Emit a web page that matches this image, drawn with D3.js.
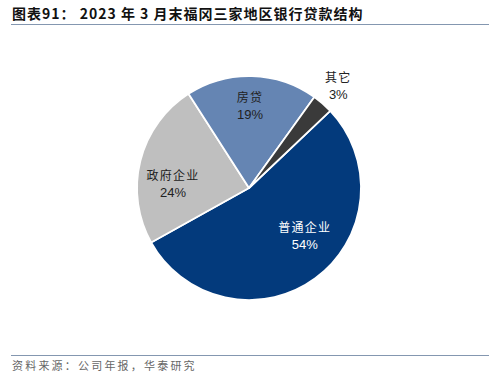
<!DOCTYPE html>
<html><head><meta charset="utf-8">
<script src="https://cdn.jsdelivr.net/npm/d3@7"></script>
<style>body{margin:0;background:#fff;} svg{display:block;}</style>
</head><body>
<svg id="c" width="500" height="382"></svg>
<script>
const categories = ["普通企业", "政府企业", "房贷", "其它"];
const values = [54, 24, 19, 3];
const labels = ["普通企业", "政府企业", "房贷", "其它"];
const colors = ["#033a7c", "#bfbfbf", "#6585b3", "#3a3a3a"];
const labelColors = ["#ffffff", "#222222", "#222222", "#222222"];
const title = "图表91：  2023 年 3 月末福冈三家地区银行贷款结构";
const source = "资料来源：公司年报，华泰研究";

const svg = d3.select("#c");
const cx = 249, cy = 188, r = 112;
const font = "'Noto Sans CJK SC', 'Liberation Sans', sans-serif";

svg.append("text").attr("x", 12).attr("y", 19)
  .attr("font-family", font).attr("font-weight", "bold").attr("font-size", 14)
  .attr("letter-spacing", 1).attr("fill", "#111").text(title);
svg.append("line").attr("x1", 11).attr("x2", 489).attr("y1", 24.5).attr("y2", 24.5)
  .attr("stroke", "#8497b0").attr("stroke-width", 1.2);

const data = categories.map((c, i) => ({c, v: values[i], i}));
const start = 46.5 * Math.PI / 180;
const pie = d3.pie().value(d => d.v).sort(null).startAngle(start).endAngle(start + 2 * Math.PI);
const arcs = pie(data);
const arc = d3.arc().innerRadius(0).outerRadius(r);

const g = svg.append("g").attr("transform", `translate(${cx},${cy})`);
g.selectAll("path").data(arcs).enter().append("path")
  .attr("d", arc).attr("fill", d => colors[d.data.i])
  .attr("stroke", "#fff").attr("stroke-width", 1.8).attr("stroke-linejoin", "round");

// label placement: radius factor and angular shift (degrees) from slice mid-angle
const lr = [0.65, 0.68, 0.74, 1.22];
const ld = [-13.7, -10.3, -0.8, -0.3];
arcs.forEach((a, k) => {
  const mid = (a.startAngle + a.endAngle) / 2 + ld[k] * Math.PI / 180;
  const rr = r * lr[k];
  const x = Math.sin(mid) * rr, y = -Math.cos(mid) * rr;
  const t = g.append("text").attr("text-anchor", "middle")
    .attr("font-family", font).attr("font-size", 12).attr("fill", labelColors[k]);
  t.append("tspan").attr("x", x).attr("y", y - 3).attr("letter-spacing", 1.2).text(labels[k]);
  t.append("tspan").attr("x", x).attr("y", y + 14).attr("font-family", "'Liberation Sans', Arial, sans-serif").attr("font-size", 13)
    .text(values[k] + "%");
});

svg.append("line").attr("x1", 11).attr("x2", 489).attr("y1", 355.5).attr("y2", 355.5)
  .attr("stroke", "#8497b0").attr("stroke-width", 1);
svg.append("text").attr("x", 12).attr("y", 370)
  .attr("font-family", font).attr("font-size", 11).attr("fill", "#666")
  .attr("letter-spacing", 2.2).text(source);
</script>
</body></html>
